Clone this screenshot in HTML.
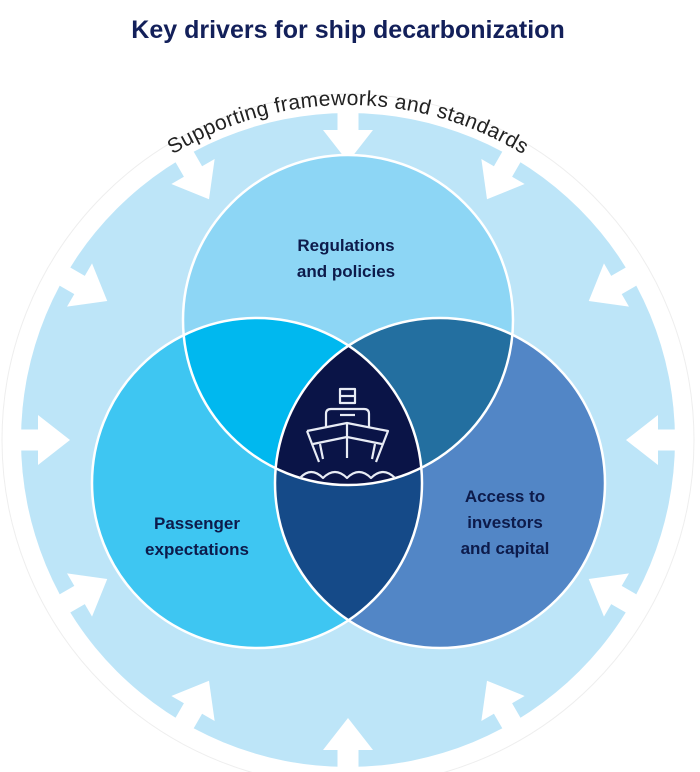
<!DOCTYPE html>
<html><head><style>
html,body{margin:0;padding:0;background:#fff;width:700px;height:772px;overflow:hidden}
</style></head><body>
<svg width="700" height="772" viewBox="0 0 700 772" xmlns="http://www.w3.org/2000/svg" font-family="Liberation Sans, sans-serif">
<defs>
<clipPath id="cT"><circle cx="348" cy="320" r="165"/></clipPath>
<clipPath id="cL"><circle cx="257" cy="483" r="165"/></clipPath>
<clipPath id="cR"><circle cx="440" cy="483" r="165"/></clipPath>
<path id="arc" d="M 13 440 A 335 335 0 0 1 683 440"/>
<g id="arr"><polygon points="337.5,100 358.5,100 358.5,130 373,130 348,162 323,130 337.5,130" fill="#fff"/></g>
</defs>
<text x="348" y="38" text-anchor="middle" font-size="25" font-weight="bold" fill="#13205a">Key drivers for ship decarbonization</text>
<circle cx="348" cy="440" r="346" fill="none" stroke="#eee" stroke-width="1"/>
<circle cx="348" cy="440" r="327" fill="#bde5f8"/>
<g>
<use href="#arr"/>
<use href="#arr" transform="rotate(30 348 440)"/>
<use href="#arr" transform="rotate(60 348 440)"/>
<use href="#arr" transform="rotate(90 348 440)"/>
<use href="#arr" transform="rotate(120 348 440)"/>
<use href="#arr" transform="rotate(150 348 440)"/>
<use href="#arr" transform="rotate(180 348 440)"/>
<use href="#arr" transform="rotate(210 348 440)"/>
<use href="#arr" transform="rotate(240 348 440)"/>
<use href="#arr" transform="rotate(270 348 440)"/>
<use href="#arr" transform="rotate(300 348 440)"/>
<use href="#arr" transform="rotate(330 348 440)"/>
</g>
<text font-size="21" fill="#222" letter-spacing="0.4"><textPath href="#arc" startOffset="50%" text-anchor="middle">Supporting frameworks and standards</textPath></text>
<circle cx="348" cy="320" r="165" fill="#8dd6f5"/>
<circle cx="257" cy="483" r="165" fill="#3ec6f2"/>
<circle cx="440" cy="483" r="165" fill="#5286c6"/>
<g clip-path="url(#cT)"><circle cx="257" cy="483" r="165" fill="#00b8ef"/><circle cx="440" cy="483" r="165" fill="#236fa0"/></g>
<g clip-path="url(#cL)"><circle cx="440" cy="483" r="165" fill="#154a88"/></g>
<g clip-path="url(#cT)"><g clip-path="url(#cL)"><circle cx="440" cy="483" r="165" fill="#0a1447"/></g></g>
<g fill="none" stroke="#fff" stroke-width="2.5">
<circle cx="348" cy="320" r="165"/><circle cx="257" cy="483" r="165"/><circle cx="440" cy="483" r="165"/>
</g>
<g fill="none" stroke="#e8ecf5" stroke-width="2.2" stroke-linejoin="round">
<rect x="340" y="389" width="15" height="14"/>
<line x1="340" y1="396" x2="355" y2="396"/>
<path d="M326 427 V414 Q326 409 331 409 H364 Q369 409 369 414 V427"/>
<line x1="340" y1="415" x2="355" y2="415"/>
<path d="M307 431 L347 423 L388 431 L376 462 M319 462 L307 431"/>
<path d="M313 444 L347 437 L382 444"/>
<line x1="347" y1="423" x2="347" y2="458"/>
<line x1="320" y1="444" x2="323" y2="459"/><line x1="375" y1="444" x2="372" y2="459"/>
<path d="M300 478 Q311 466 323 478 Q335 466 347 478 Q359 466 371 478 Q383 466 395 478"/>
</g>
<g font-size="17" font-weight="bold" fill="#0d1b4b" text-anchor="middle">
<text x="346" y="251">Regulations</text><text x="346" y="277">and policies</text>
<text x="197" y="529">Passenger</text><text x="197" y="555">expectations</text>
<text x="505" y="502">Access to</text><text x="505" y="528">investors</text><text x="505" y="554">and capital</text>
</g>
</svg>
</body></html>
